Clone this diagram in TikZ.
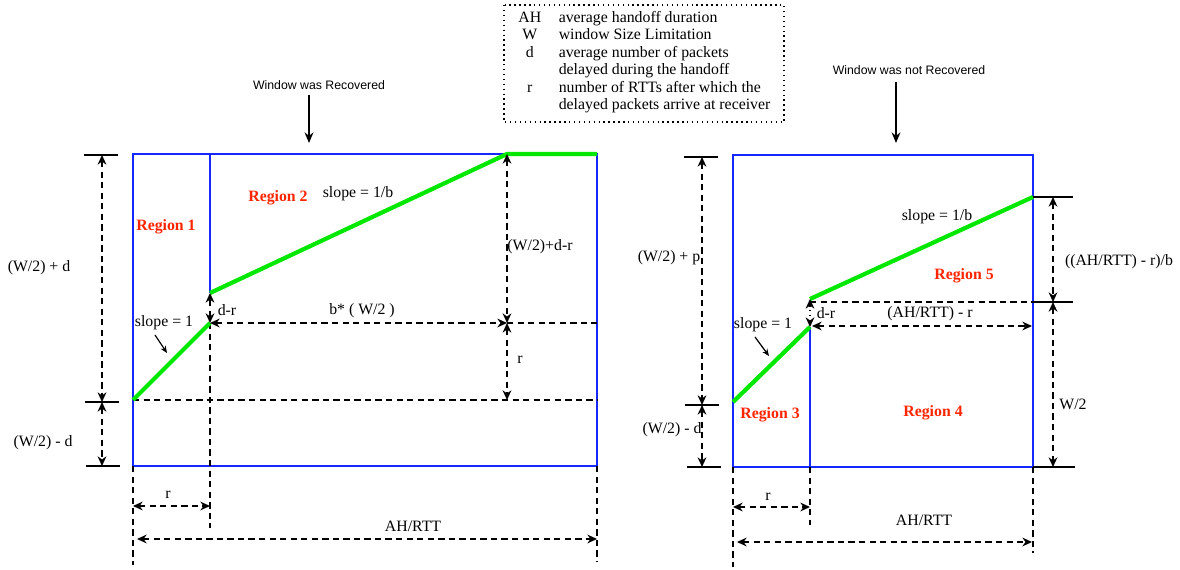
\documentclass[tikz,border=0pt]{standalone}
\usepackage{fontspec}
\setmainfont{Liberation Serif}
\newfontfamily\notefont{Liberation Sans}
\usepackage{xcolor}
\usetikzlibrary{arrows.meta}
\definecolor{boxblue}{RGB}{20,40,255}
\definecolor{slopegreen}{RGB}{0,232,0}
\definecolor{regred}{RGB}{255,36,0}

\begin{document}
\begin{tikzpicture}[
x=0.02cm,
y=-0.02cm,
every node/.style={font=\fontsize{9}{9.9}\selectfont,inner sep=1pt},
frame/.style={draw=boxblue,line width=0.9pt},
curve/.style={draw=slopegreen,line width=2.4pt},
guide/.style={draw=black,line width=0.8pt,dash pattern=on 3.6pt off 2.4pt},
dimarr/.style={guide,{Stealth[length=5.5pt,width=5pt]}-{Stealth[length=5.5pt,width=5pt]}},
dotarr/.style={draw=black,line width=0.7pt,dotted,{Stealth[length=5.5pt,width=5pt]}-{Stealth[length=5.5pt,width=5pt]}},
tick/.style={draw=black,line width=0.9pt},
pointer/.style={draw=black,line width=0.7pt,-{Stealth[length=4pt,width=3.4pt]}},
drop/.style={draw=black,line width=1pt,-{Stealth[length=6pt,width=5pt]}},
region/.style={font=\fontsize{9}{9.9}\selectfont\bfseries,text=regred},
note/.style={font=\notefont\fontsize{7}{8}\selectfont},
legbox/.style={draw=black,line width=0.8pt,dotted}
]
\useasboundingbox (0,0) rectangle (1180,570);

% legend
\coordinate (legNW) at (504,5);
\coordinate (legSE) at (784,122);
\draw[legbox] (legNW) rectangle (legSE);
\node[anchor=north west,inner sep=0pt] (legtab) at (518,10) {%
\begin{tabular}{@{}c@{\hspace{10pt}}l@{}}
AH & average handoff duration\\
W & window Size Limitation\\
d & average number of packets\\
 & delayed during the handoff\\
r & number of RTTs after which the\\
 & delayed packets arrive at receiver
\end{tabular}};

% left panel: window was recovered
\coordinate (lTL) at (133,154);
\coordinate (lBR) at (597,466);
\coordinate (lTR) at (597,154);
\coordinate (lDiv) at (210,154);
\coordinate (lJump) at (210,293);
\coordinate (lKnee) at (210,323);
\coordinate (lStart) at (133,400);
\coordinate (lTop) at (507,154);
\coordinate (lTopB) at (507,323);
\coordinate (lRB) at (507,400);
\coordinate (lKneeR) at (597,323);
\coordinate (lStartR) at (597,400);
\coordinate (lKneeD) at (210,528);
\coordinate (lBLd) at (133,565);
\coordinate (lBL) at (133,466);
\coordinate (lBRd) at (597,562);
\coordinate (lrA) at (133,506);
\coordinate (lrB) at (210,506);
\coordinate (lahA) at (137,539);
\coordinate (lahB) at (597,539);

\draw[frame] (lTL) rectangle (lBR);
\draw[frame] (lDiv) -- (lJump);
\draw[guide] (lStart) -- (lStartR);
\draw[guide] (lTopB) -- (lKneeR);
\draw[guide] (lKnee) -- (lKneeD);
\draw[guide] (lBL) -- (lBLd);
\draw[guide] (lBR) -- (lBRd);
\draw[curve] (lStart) -- (lKnee);
\draw[curve] (lJump) -- (lTop) -- (lTR);
\draw[dimarr] (lKnee) -- (lTopB);
\draw[dimarr] (lKnee) -- (lJump);
\draw[dimarr] (lTop) -- (lTopB);
\draw[dimarr] (lTopB) -- (lRB);
\draw[dimarr] (lrA) -- (lrB);
\draw[dimarr] (lahA) -- (lahB);

\coordinate (lt1a) at (84,155);
\coordinate (lt1b) at (118,155);
\coordinate (lt2a) at (85,402);
\coordinate (lt2b) at (119,402);
\coordinate (lt3a) at (86,466);
\coordinate (lt3b) at (120,466);
\coordinate (ld1) at (102,155);
\coordinate (ld2) at (102,402);
\coordinate (ld3) at (102,466);
\draw[tick] (lt1a) -- (lt1b);
\draw[tick] (lt2a) -- (lt2b);
\draw[tick] (lt3a) -- (lt3b);
\draw[dimarr] (ld1) -- (ld2);
\draw[dimarr] (ld2) -- (ld3);

\node[note] (wrec) at (319,85) {Window was Recovered};
\coordinate (wrecA) at (309,95);
\coordinate (wrecB) at (309,143);
\draw[drop] (wrecA) -- (wrecB);

\node[region] (reg1) at (166,227) {Region 1};
\node[region] (reg2) at (278,198) {Region 2};
\node (lslopeb) at (358,194) {slope = 1/b};
\node (lslope) at (164,323) {slope = 1};
\coordinate (lpA) at (155,335);
\coordinate (lpB) at (167,353);
\draw[pointer] (lpA) -- (lpB);
\node (ldr) at (227,310) {d-r};
\node (lbw) at (362,311) {b* ( W/2 )};
\node (lwdr) at (540,247) {(W/2)+d-r};
\node (lr) at (520,360) {r};
\node (lwpd) at (39,268) {(W/2) + d};
\node (lwmd) at (43,443) {(W/2) - d};
\node (lrb) at (168,495) {r};
\node (lah) at (413,526) {AH/RTT};

% right panel: window was not recovered
\coordinate (rTL) at (733,155);
\coordinate (rBR) at (1033,467);
\coordinate (rBL) at (733,467);
\coordinate (rStart) at (733,402);
\coordinate (rKnee) at (810,327);
\coordinate (rJump) at (810,299);
\coordinate (rEnd) at (1033,197);
\coordinate (rDivB) at (810,467);
\coordinate (rJL) at (810,302);
\coordinate (rJR) at (1033,302);
\coordinate (rhA) at (812,326);
\coordinate (rhB) at (1032,326);
\coordinate (rBLd) at (733,567);
\coordinate (rDivD) at (810,525);
\coordinate (rBRd) at (1033,553);
\coordinate (rrA) at (733,507);
\coordinate (rrB) at (810,507);
\coordinate (rahA) at (737,542);
\coordinate (rahB) at (1032,542);

\draw[frame] (rTL) rectangle (rBR);
\draw[frame] (rKnee) -- (rDivB);
\draw[guide] (rJL) -- (rJR);
\draw[guide] (rBL) -- (rBLd);
\draw[guide] (rDivB) -- (rDivD);
\draw[guide] (rBR) -- (rBRd);
\draw[curve] (rStart) -- (rKnee);
\draw[curve] (rJump) -- (rEnd);
\draw[dotarr] (rKnee) -- (rJump);
\draw[dimarr] (rhA) -- (rhB);
\draw[dimarr] (rrA) -- (rrB);
\draw[dimarr] (rahA) -- (rahB);

\coordinate (rt1a) at (684,157);
\coordinate (rt1b) at (718,157);
\coordinate (rt2a) at (685,405);
\coordinate (rt2b) at (719,405);
\coordinate (rt3a) at (687,467);
\coordinate (rt3b) at (721,467);
\coordinate (rd1) at (702,157);
\coordinate (rd2) at (702,405);
\coordinate (rd3) at (702,467);
\draw[tick] (rt1a) -- (rt1b);
\draw[tick] (rt2a) -- (rt2b);
\draw[tick] (rt3a) -- (rt3b);
\draw[dimarr] (rd1) -- (rd2);
\draw[dimarr] (rd2) -- (rd3);

\coordinate (rs1b) at (1073,197);
\coordinate (rs2b) at (1073,302);
\coordinate (rs3b) at (1075,467);
\coordinate (re1) at (1053,197);
\coordinate (re2) at (1053,302);
\coordinate (re3) at (1053,467);
\draw[tick] (rEnd) -- (rs1b);
\draw[tick] (rJR) -- (rs2b);
\draw[tick] (rBR) -- (rs3b);
\draw[dimarr] (re1) -- (re2);
\draw[dimarr] (re2) -- (re3);

\node[note] (wnot) at (909,70) {Window was not Recovered};
\coordinate (wnotA) at (896,82);
\coordinate (wnotB) at (896,143);
\draw[drop] (wnotA) -- (wnotB);

\node[region] (reg3) at (770,415) {Region 3};
\node[region] (reg4) at (933,413) {Region 4};
\node[region] (reg5) at (964,276) {Region 5};
\node (rslopeb) at (937,217) {slope = 1/b};
\node (rslope) at (763,325) {slope = 1};
\coordinate (rpA) at (755,337);
\coordinate (rpB) at (769,356);
\draw[pointer] (rpA) -- (rpB);
\node (rdr) at (826,313) {d-r};
\node (rahr) at (930,314) {(AH/RTT) - r};
\node (rwpp) at (669,258) {(W/2) + p};
\node (rwmd) at (672,430) {(W/2) - d};
\node (rahrb) at (1119,262) {((AH/RTT) - r)/b};
\node (rw2) at (1073,404) {W/2};
\node (rrb) at (768,497) {r};
\node (rah) at (924,520) {AH/RTT};
\end{tikzpicture}
\end{document}
